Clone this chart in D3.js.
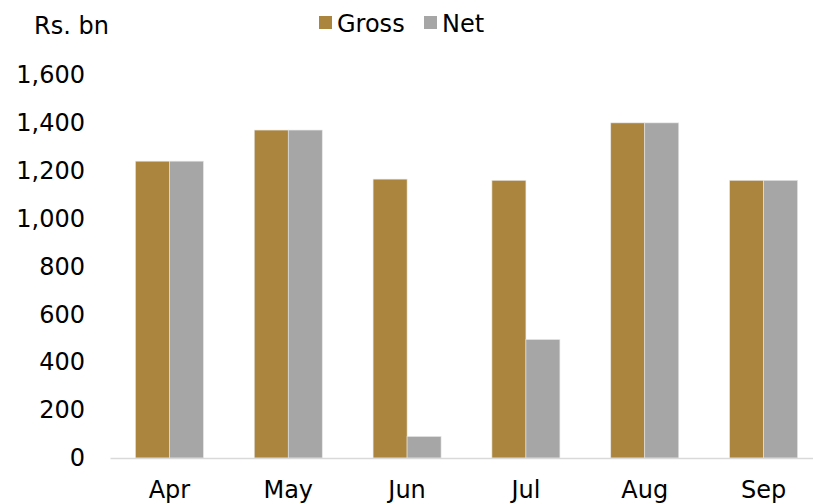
<!DOCTYPE html>
<html>
<head>
<meta charset="utf-8">
<script src="https://cdn.jsdelivr.net/npm/d3@7"></script>
<style>
  body { margin: 0; background: #fff; }
  text { font-family: "DejaVu Sans", sans-serif; fill: #000; }
</style>
</head>
<body>
<div id="chart"></div>
<script>
// données
const months = ["Apr", "May", "Jun", "Jul", "Aug", "Sep"];
const series = ["Gross", "Net"];
const gross = [1240, 1370, 1165, 1160, 1400, 1160];
const net = [1240, 1370, 90, 495, 1400, 1160];
const yTicks = [0, 200, 400, 600, 800, 1000, 1200, 1400, 1600];

const colors = { Gross: "#ab853d", Net: "#a6a6a6" };

// constantes
const w = 813;
const h = 504;

const svg = d3.select("#chart")
    .append("svg")
    .attr("width", w)
    .attr("height", h);

// scales
const xScale = d3.scaleBand()
    .domain(months)
    .range([110, 823])
    .paddingInner(0.428)
    .paddingOuter(0.214);

const x1 = d3.scaleBand()
    .domain(series)
    .range([0, xScale.bandwidth()]);

const yScale = d3.scaleLinear()
    .domain([0, 1600])
    .range([458, 75]);

const rows = months.map((m, i) => ({ month: m, Gross: gross[i], Net: net[i] }));

// barres
const groups = svg.selectAll("g.month")
    .data(rows)
    .enter()
    .append("g")
    .attr("class", "month")
    .attr("transform", d => "translate(" + xScale(d.month) + ",0)");

groups.selectAll("rect")
    .data(d => series.map(s => ({ key: s, value: d[s] })))
    .enter()
    .append("rect")
    .attr("x", d => x1(d.key))
    .attr("y", d => yScale(d.value))
    .attr("width", x1.bandwidth())
    .attr("height", d => yScale(0) - yScale(d.value))
    .attr("fill", d => colors[d.key])
    .attr("stroke", "#e6e6e6")
    .attr("stroke-width", 0.6);

// axe y (labels seulement)
const axeY = d3.axisLeft(yScale)
    .tickValues(yTicks)
    .tickSize(0)
    .tickPadding(0)
    .tickFormat(d3.format(","));

svg.append("g")
    .attr("class", "y axis")
    .attr("transform", "translate(85,0)")
    .call(axeY)
    .call(g => g.select(".domain").remove())
    .selectAll("text")
    .attr("font-family", "DejaVu Sans, sans-serif")
    .attr("font-size", 24)
    .attr("fill", "#000");

// axe x
const axeX = d3.axisBottom(xScale)
    .tickSize(0)
    .tickPadding(0);

svg.append("g")
    .attr("class", "x axis")
    .attr("transform", "translate(0," + yScale(0) + ")")
    .call(axeX)
    .call(g => g.select(".domain")
        .attr("stroke", "#d9d9d9")
        .attr("stroke-width", 1.5))
    .selectAll("text")
    .attr("dy", null)
    .attr("y", 40)
    .attr("font-family", "DejaVu Sans, sans-serif")
    .attr("font-size", 24)
    .attr("fill", "#000");

// titre unité
svg.append("text")
    .attr("x", 34)
    .attr("y", 34)
    .attr("font-size", 24)
    .text("Rs. bn");

// légende
const legend = svg.append("g").attr("class", "legend");
const legendX = [319, 424];
series.forEach((s, i) => {
    legend.append("rect")
        .attr("x", legendX[i])
        .attr("y", 16)
        .attr("width", 13)
        .attr("height", 13)
        .attr("fill", colors[s]);
    legend.append("text")
        .attr("x", legendX[i] + 18)
        .attr("y", 32)
        .attr("font-size", 24)
        .text(s);
});
</script>
</body>
</html>
